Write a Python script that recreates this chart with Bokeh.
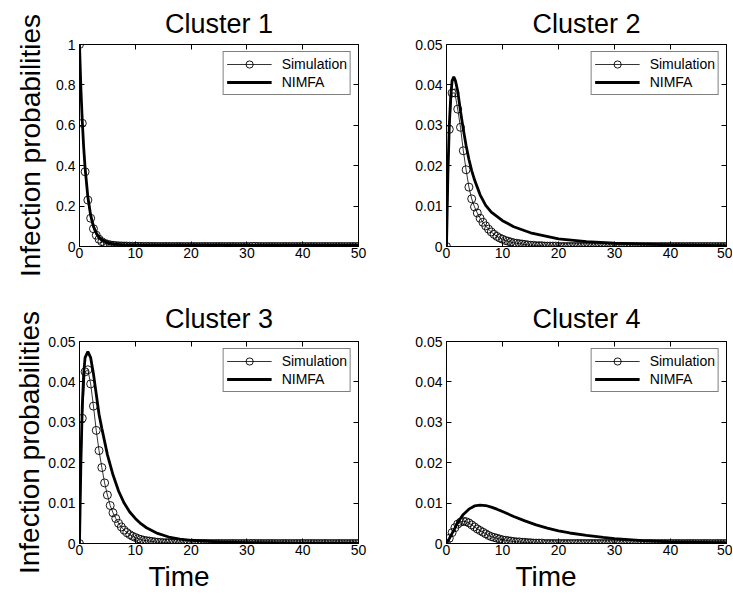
from bokeh.plotting import figure
from bokeh.models import Range1d, FixedTicker, LinearAxis, CustomJSTickFormatter, Title
from bokeh.layouts import column, row
from bokeh.embed import file_html
from bokeh.resources import INLINE

FONT = "Liberation Sans"

# ---------------- data ----------------
titles = ["Cluster 1", "Cluster 2", "Cluster 3", "Cluster 4"]
x_ticks = [0, 10, 20, 30, 40, 50]
y_ticks_c1 = [0, 0.2, 0.4, 0.6, 0.8, 1.0]
y_ticks_small = [0, 0.01, 0.02, 0.03, 0.04, 0.05]

t_sim = [0, 0.5, 1, 1.5, 2, 2.5, 3, 3.5, 4, 4.5,
         5, 5.5, 6, 6.5, 7, 7.5, 8, 8.5, 9, 9.5,
         10, 10.5, 11, 11.5, 12, 12.5, 13, 13.5, 14, 14.5,
         15, 15.5, 16, 16.5, 17, 17.5, 18, 18.5, 19, 19.5,
         20, 20.5, 21, 21.5, 22, 22.5, 23, 23.5, 24, 24.5,
         25, 25.5, 26, 26.5, 27, 27.5, 28, 28.5, 29, 29.5,
         30, 30.5, 31, 31.5, 32, 32.5, 33, 33.5, 34, 34.5,
         35, 35.5, 36, 36.5, 37, 37.5, 38, 38.5, 39, 39.5,
         40, 40.5, 41, 41.5, 42, 42.5, 43, 43.5, 44, 44.5,
         45, 45.5, 46, 46.5, 47, 47.5, 48, 48.5, 49, 49.5,
         50]

sim1 = [1.0, 0.61, 0.37, 0.23, 0.14, 0.088, 0.056, 0.036, 0.024, 0.016,
        0.011, 0.008, 0.006, 0.0045, 0.0035, 0.0028, 0.0022, 0.0018, 0.0015, 0.0012,
        0.001, 0.0008, 0.0007, 0.0006, 0.0005, 0.0004, 0.0003, 0.0003, 0.0002, 0.0002,
        0.0001, 0.0001, 0.0001, 0.0001, 0.0001, 0.0001, 0.0001, 0.0001, 0.0001, 0.0001,
        0, 0, 0, 0, 0, 0, 0, 0, 0, 0,
        0, 0, 0, 0, 0, 0, 0, 0, 0, 0,
        0, 0, 0, 0, 0, 0, 0, 0, 0, 0,
        0, 0, 0, 0, 0, 0, 0, 0, 0, 0,
        0, 0, 0, 0, 0, 0, 0, 0, 0, 0,
        0, 0, 0, 0, 0, 0, 0, 0, 0, 0,
        0]

sim2 = [0, 0.029, 0.038, 0.038, 0.034, 0.0295, 0.0237, 0.019, 0.0147, 0.0118,
        0.0098, 0.0083, 0.0070, 0.0060, 0.0051, 0.0043, 0.0036, 0.0030, 0.0025, 0.0021,
        0.0018, 0.0015, 0.0013, 0.0011, 0.0009, 0.0008, 0.0007, 0.0006, 0.0005, 0.0004,
        0.0003, 0.0003, 0.0002, 0.0002, 0.0002, 0.0001, 0.0001, 0.0001, 0.0001, 0.0001,
        0, 0, 0, 0, 0, 0, 0, 0, 0, 0,
        0, 0, 0, 0, 0, 0, 0, 0, 0, 0,
        0, 0, 0, 0, 0, 0, 0, 0, 0, 0,
        0, 0, 0, 0, 0, 0, 0, 0, 0, 0,
        0, 0, 0, 0, 0, 0, 0, 0, 0, 0,
        0, 0, 0, 0, 0, 0, 0, 0, 0, 0,
        0]

sim3 = [0, 0.031, 0.0425, 0.043, 0.0395, 0.034, 0.028, 0.023, 0.0188, 0.015,
        0.012, 0.0094, 0.0076, 0.0062, 0.0050, 0.0041, 0.0033, 0.0027, 0.0022, 0.0018,
        0.0015, 0.0012, 0.0010, 0.0008, 0.0007, 0.0006, 0.0005, 0.0004, 0.0003, 0.0003,
        0.0002, 0.0002, 0.0002, 0.0001, 0.0001, 0.0001, 0.0001, 0.0001, 0, 0,
        0, 0, 0, 0, 0, 0, 0, 0, 0, 0,
        0, 0, 0, 0, 0, 0, 0, 0, 0, 0,
        0, 0, 0, 0, 0, 0, 0, 0, 0, 0,
        0, 0, 0, 0, 0, 0, 0, 0, 0, 0,
        0, 0, 0, 0, 0, 0, 0, 0, 0, 0,
        0, 0, 0, 0, 0, 0, 0, 0, 0, 0,
        0]

sim4 = [0, 0.0013, 0.0027, 0.0039, 0.0048, 0.0053, 0.0055, 0.0054, 0.0051, 0.0046,
        0.0041, 0.0036, 0.0032, 0.0028, 0.0024, 0.0020, 0.0017, 0.0015, 0.0013, 0.0011,
        0.0009, 0.0008, 0.0007, 0.0006, 0.0005, 0.0004, 0.0004, 0.0003, 0.0003, 0.0002,
        0.0002, 0.0001, 0.0001, 0.0001, 0.0001, 0, 0, 0, 0, 0,
        0, 0, 0, 0, 0, 0, 0, 0, 0, 0,
        0, 0, 0, 0, 0, 0, 0, 0, 0, 0,
        0, 0, 0, 0, 0, 0, 0, 0, 0, 0,
        0, 0, 0, 0, 0, 0, 0, 0, 0, 0,
        0, 0, 0, 0, 0, 0, 0, 0, 0, 0,
        0, 0, 0, 0, 0, 0, 0, 0, 0, 0,
        0]

nimfa1_t = [0, 0.25, 0.5, 0.75, 1, 1.5, 2, 2.5, 3, 3.5, 4, 5, 6, 7, 8, 10, 15, 20, 30, 40, 50]
nimfa1 = [1.0, 0.78, 0.62, 0.49, 0.39, 0.245, 0.155, 0.1, 0.067, 0.046, 0.033, 0.019,
          0.013, 0.010, 0.0085, 0.0075, 0.0068, 0.0063, 0.0058, 0.0055, 0.0052]

nimfa2_t = [0, 0.25, 0.5, 0.75, 1, 1.3, 1.6, 2, 2.5, 3, 3.5, 4, 4.5, 5, 6, 7, 8, 10, 12, 15,
            20, 25, 30, 35, 40, 45, 50]
nimfa2 = [0, 0.018, 0.030, 0.037, 0.041, 0.042, 0.041, 0.0385, 0.0335, 0.029, 0.025, 0.0216,
          0.0188, 0.0165, 0.0128, 0.0102, 0.0085, 0.0064, 0.0049, 0.0034, 0.0019, 0.0012,
          0.0008, 0.0006, 0.0004, 0.0003, 0.0002]

nimfa3_t = [0, 0.25, 0.5, 0.75, 1, 1.5, 2, 2.5, 3, 3.5, 4, 5, 6, 7, 8, 9, 10, 11, 12,
            14, 16, 18, 20, 25, 30, 40, 50]
nimfa3 = [0, 0.02, 0.034, 0.042, 0.046, 0.0475, 0.046, 0.042, 0.037, 0.032, 0.0285, 0.022,
          0.017, 0.013, 0.010, 0.0078, 0.0062, 0.0049, 0.0039, 0.0025, 0.0016, 0.0011,
          0.0008, 0.0004, 0.0002, 0.0001, 0.0001]

nimfa4_t = [0, 0.5, 1, 1.5, 2, 3, 4, 5, 6, 7, 8, 9, 10, 12, 14, 16, 18, 20, 22, 25, 28,
            30, 35, 40, 45, 50]
nimfa4 = [0, 0.0012, 0.0025, 0.0038, 0.0052, 0.0072, 0.0085, 0.0093, 0.0095, 0.0094,
          0.009, 0.0085, 0.0079, 0.0067, 0.0056, 0.0046, 0.0038, 0.0031, 0.0026, 0.0020,
          0.0015, 0.0012, 0.0007, 0.0004, 0.0003, 0.0002]

fmt_code = "return String(parseFloat(tick.toFixed(4)));"
blank_code = "return '';"


def style_axis(ax, standoff):
    ax.major_tick_in = 5
    ax.major_tick_out = 0
    ax.minor_tick_line_color = None
    ax.axis_line_color = "black"
    ax.major_tick_line_color = "black"
    ax.major_label_text_font = FONT
    ax.major_label_text_font_size = "14px"
    ax.major_label_text_color = "black"
    ax.major_label_standoff = standoff


def panel(title, sim, nt, nv, ymax, yticks, width, height, bl, br, bt, bb,
          ylabel=None, ylabel_standoff=0, time_offset=None, title_standoff=6):
    p = figure(width=width, height=height, x_range=Range1d(0, 50), y_range=Range1d(0, ymax),
               output_backend="svg", toolbar_location=None,
               min_border_left=bl, min_border_right=br, min_border_top=bt, min_border_bottom=bb)
    p.background_fill_color = "white"
    p.border_fill_color = "white"
    p.outline_line_color = "black"
    p.outline_line_width = 1
    p.xgrid.visible = False
    p.ygrid.visible = False

    p.title.text = title
    p.title.align = "center"
    p.title.text_font = FONT
    p.title.text_font_size = "27px"
    p.title.text_font_style = "normal"
    p.title.text_color = "black"
    p.title.standoff = title_standoff

    p.xaxis.ticker = FixedTicker(ticks=x_ticks)
    p.xaxis.formatter = CustomJSTickFormatter(code=fmt_code)
    style_axis(p.xaxis[0], 1)
    p.yaxis.ticker = FixedTicker(ticks=yticks)
    p.yaxis.formatter = CustomJSTickFormatter(code=fmt_code)
    style_axis(p.yaxis[0], 4)
    if ylabel:
        p.yaxis.axis_label = ylabel
        p.yaxis.axis_label_text_font = FONT
        p.yaxis.axis_label_text_font_size = "28px"
        p.yaxis.axis_label_text_font_style = "normal"
        p.yaxis.axis_label_text_color = "black"
        p.yaxis.axis_label_standoff = ylabel_standoff

    top = LinearAxis(ticker=FixedTicker(ticks=x_ticks), formatter=CustomJSTickFormatter(code=blank_code))
    style_axis(top, 0)
    top.major_label_text_font_size = "0px"
    p.add_layout(top, "above")
    right = LinearAxis(ticker=FixedTicker(ticks=yticks), formatter=CustomJSTickFormatter(code=blank_code))
    style_axis(right, 0)
    right.major_label_text_font_size = "0px"
    p.add_layout(right, "right")

    p.line(t_sim, sim, line_color="black", line_width=0.8, legend_label="Simulation")
    p.scatter(t_sim, sim, marker="circle", size=8, fill_color=None, line_color="black",
              line_width=0.9, legend_label="Simulation")
    p.line(nt, nv, line_color="black", line_width=2.8, legend_label="NIMFA")

    lg = p.legend[0]
    lg.location = "top_right"
    lg.margin = 7
    lg.padding = 3
    lg.spacing = 0
    lg.glyph_width = 45
    lg.glyph_height = 18
    lg.label_height = 18
    lg.label_standoff = 10
    lg.label_text_font = FONT
    lg.label_text_font_size = "14px"
    lg.label_text_color = "black"
    lg.border_line_color = "black"
    lg.border_line_width = 1
    lg.background_fill_color = "white"
    lg.background_fill_alpha = 1.0

    if time_offset is not None:
        t = Title(text="Time", align="left", offset=time_offset, text_font=FONT,
                  text_font_size="28px", text_font_style="normal", text_color="black", standoff=2)
        p.add_layout(t, "below")
    return p


p1 = panel(titles[0], sim1, nimfa1_t, nimfa1, 1.0, y_ticks_c1, 380, 294, 79, 22, 42, 48,
           ylabel="Infection probabilities", ylabel_standoff=7, title_standoff=12)
p2 = panel(titles[1], sim2, nimfa2_t, nimfa2, 0.05, y_ticks_small, 352, 294, 66, 6, 42, 48,
           title_standoff=12)
p3 = panel(titles[2], sim3, nimfa3_t, nimfa3, 0.05, y_ticks_small, 380, 299, 79, 22, 46, 50,
           ylabel="Infection probabilities", ylabel_standoff=0, time_offset=69, title_standoff=15)
p4 = panel(titles[3], sim4, nimfa4_t, nimfa4, 0.05, y_ticks_small, 352, 299, 66, 6, 46, 50,
           time_offset=69, title_standoff=15)

layout = column(row(p1, p2), row(p3, p4))
open("out.html", "w").write(file_html(layout, INLINE))
